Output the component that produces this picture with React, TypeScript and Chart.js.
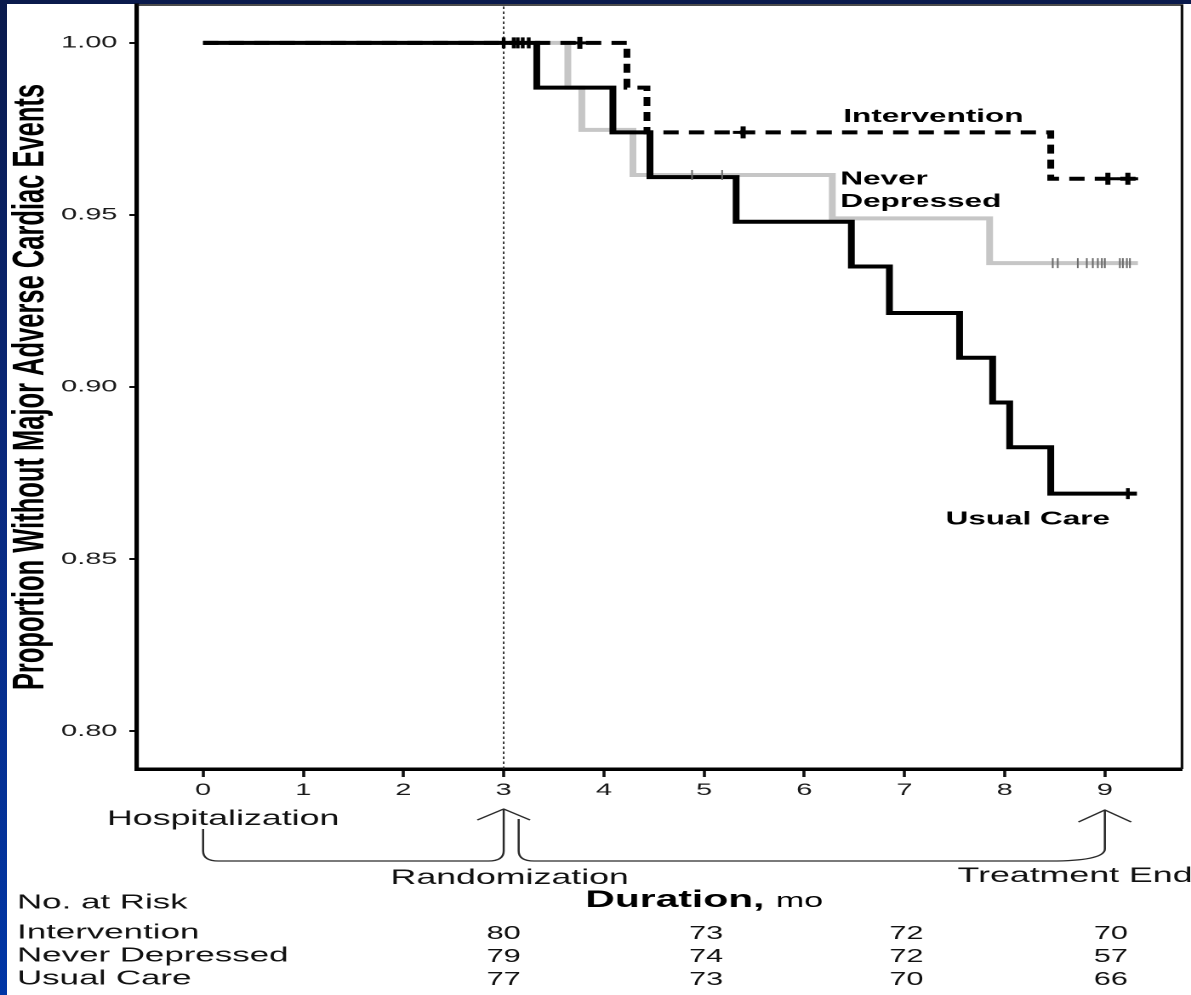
import React, { useEffect, useRef } from "react";
import { Chart, registerables } from "chart.js";

Chart.register(...registerables);

// ---- layout constants (logical canvas is stretched horizontally like the original) ----
const LOGICAL_W = 700;
const LOGICAL_H = 995;
const STRETCH = 1191 / LOGICAL_W;
const FONT = "'Liberation Sans', Arial, Helvetica, sans-serif";

// ---- data ----
const monthTicks = [0, 1, 2, 3, 4, 5, 6, 7, 8, 9];
const proportionTicks = [0.8, 0.85, 0.9, 0.95, 1.0];

const usualCareTimes = [0, 3.33, 4.09, 4.46, 5.32, 6.47, 6.85, 7.55, 7.88, 8.05, 8.46, 9.32];
const usualCareSurvival = [1.0, 0.987, 0.974, 0.961, 0.948, 0.935, 0.9215, 0.9085, 0.8955, 0.8825, 0.869, 0.869];

const interventionTimes = [0, 4.23, 4.43, 8.46, 9.33];
const interventionSurvival = [1.0, 0.987, 0.974, 0.9605, 0.9605];

const neverDepressedTimes = [0, 3.64, 3.78, 4.29, 6.28, 7.85, 9.33];
const neverDepressedSurvival = [1.0, 0.987, 0.9747, 0.9616, 0.949, 0.936, 0.936];

const usualCareCensored = [3.0, 3.1, 3.14, 3.19, 3.25, 9.23];
const interventionCensored = [3.76, 5.39, 9.03, 9.23];
const neverDepressedCensored = [4.88, 5.18, 8.48, 8.53, 8.73, 8.82, 8.88, 8.93, 8.97, 9.0, 9.15, 9.18, 9.22, 9.25];

const randomizationMonth = 3;

const curveLabelTexts = ["Intervention", "Never", "Depressed", "Usual Care"];
const curveLabelMonths = [6.39, 6.36, 6.36, 7.41];
const curveLabelLevels = [0.9788, 0.9606, 0.9541, 0.8618];

const timelineTexts = ["Hospitalization", "Randomization", "Treatment End"];
const timelineMonths = [0.2, 3.06, 7.53];

const riskHeader = "No. at Risk";
const riskGroups = ["Intervention", "Never Depressed", "Usual Care"];
const riskMonths = [3, 5.02, 7.02, 9.06];
const riskIntervention = [80, 73, 72, 70];
const riskNeverDepressed = [79, 74, 72, 57];
const riskUsualCare = [77, 73, 70, 66];

const X_MIN = -0.66;
const X_MAX = 9.77;
const Y_MIN = 0.789;
const Y_MAX = 1.011;

function toPoints(times: number[], values: number[]) {
  return times.map((t, i) => ({ x: t, y: values[i] }));
}

function survivalAt(times: number[], values: number[], t: number) {
  let v = values[0];
  for (let i = 0; i < times.length; i++) if (times[i] <= t) v = values[i];
  return v;
}

function censorPoints(cens: number[], times: number[], values: number[]) {
  return cens.map((t) => ({ x: t, y: survivalAt(times, values, t) }));
}

const decorPlugin = {
  id: "decor",
  afterDraw(chart: any) {
    const { ctx, chartArea } = chart;
    const xs = chart.scales.x;
    const ys = chart.scales.y;
    const X = (t: number) => xs.getPixelForValue(t);
    const Y = (v: number) => ys.getPixelForValue(v);
    ctx.save();

    // top and right frame
    ctx.strokeStyle = "#111";
    ctx.lineWidth = 1.6;
    ctx.beginPath();
    ctx.moveTo(chartArea.left, chartArea.top);
    ctx.lineTo(chartArea.right, chartArea.top);
    ctx.lineTo(chartArea.right, chartArea.bottom);
    ctx.stroke();

    // curve labels
    ctx.fillStyle = "#000";
    ctx.font = `bold 18.5px ${FONT}`;
    ctx.textAlign = "left";
    ctx.textBaseline = "middle";
    curveLabelTexts.forEach((txt, i) => {
      ctx.fillText(txt, X(curveLabelMonths[i]), Y(curveLabelLevels[i]) + 1);
    });

    // timeline labels
    ctx.fillStyle = "#111";
    ctx.font = `21px ${FONT}`;
    ctx.textBaseline = "alphabetic";
    ctx.textAlign = "center";
    ctx.fillText(timelineTexts[0], X(timelineMonths[0]), 825);
    ctx.fillText(timelineTexts[1], X(timelineMonths[1]), 884);
    ctx.textAlign = "left";
    ctx.fillText(timelineTexts[2], X(timelineMonths[2]), 882);

    // braces + arrows
    const x0 = X(0);
    const x3 = X(randomizationMonth);
    const x9 = X(9);
    ctx.strokeStyle = "#2a2a2a";
    ctx.lineWidth = 1.25;
    ctx.lineJoin = "round";
    ctx.beginPath();
    ctx.moveTo(x0, 829);
    ctx.lineTo(x0, 851);
    ctx.quadraticCurveTo(x0, 861, x0 + 9, 861);
    ctx.lineTo(x3 - 9, 861);
    ctx.quadraticCurveTo(x3, 861, x3, 851);
    ctx.lineTo(x3, 809);
    ctx.stroke();
    ctx.beginPath();
    ctx.moveTo(x3 - 15.5, 820);
    ctx.lineTo(x3, 809);
    ctx.lineTo(x3 + 15.5, 820);
    ctx.stroke();
    const xb = x3 + 8.8;
    ctx.beginPath();
    ctx.moveTo(xb, 819);
    ctx.lineTo(xb, 851);
    ctx.quadraticCurveTo(xb, 861, xb + 9, 861);
    ctx.lineTo(x9 - 28, 861);
    ctx.quadraticCurveTo(x9, 860, x9, 849);
    ctx.lineTo(x9, 810);
    ctx.stroke();
    ctx.beginPath();
    ctx.moveTo(x9 - 15.5, 822);
    ctx.lineTo(x9, 810);
    ctx.lineTo(x9 + 15.5, 822);
    ctx.stroke();

    // Duration, mo
    ctx.fillStyle = "#000";
    ctx.textAlign = "left";
    ctx.font = `bold 24px ${FONT}`;
    const durText = "Duration,";
    ctx.fillText(durText, 344, 907);
    const durW = ctx.measureText(durText + " ").width;
    ctx.font = `20px ${FONT}`;
    ctx.fillText("mo", 344 + durW, 907);

    // number at risk table
    ctx.fillStyle = "#111";
    ctx.font = `20.5px ${FONT}`;
    ctx.textBaseline = "middle";
    ctx.textAlign = "left";
    ctx.fillText(riskHeader, 10, 903);
    const rowY = [933, 956, 979];
    riskGroups.forEach((g, i) => ctx.fillText(g, 10, rowY[i]));
    ctx.font = `18px ${FONT}`;
    ctx.textAlign = "center";
    const rows = [riskIntervention, riskNeverDepressed, riskUsualCare];
    rows.forEach((row, r) => {
      row.forEach((n, c) => ctx.fillText(String(n), X(riskMonths[c]), rowY[r] + 1));
    });

    ctx.restore();
  },
};

export default function App() {
  const canvasRef = useRef<HTMLCanvasElement | null>(null);

  useEffect(() => {
    const canvas = canvasRef.current;
    if (!canvas) return;
    const chart = new Chart(canvas, {
      type: "line",
      data: {
        datasets: [
          {
            label: "Usual Care censored",
            data: censorPoints(usualCareCensored, usualCareTimes, usualCareSurvival),
            showLine: false,
            pointStyle: "line",
            rotation: 90,
            pointRadius: 5.5,
            borderColor: "#000",
            backgroundColor: "#000",
            pointBorderWidth: 2.2,
            order: 0,
          } as any,
          {
            label: "Intervention censored",
            data: censorPoints(interventionCensored, interventionTimes, interventionSurvival),
            showLine: false,
            pointStyle: "cross",
            pointRadius: 6,
            borderColor: "#000",
            backgroundColor: "#000",
            pointBorderWidth: 3,
            order: 0,
          } as any,
          {
            label: "Never Depressed censored",
            data: censorPoints(neverDepressedCensored, neverDepressedTimes, neverDepressedSurvival),
            showLine: false,
            pointStyle: "line",
            rotation: 90,
            pointRadius: 5,
            borderColor: "#6a6a6a",
            backgroundColor: "#6a6a6a",
            pointBorderWidth: 1,
            order: 0,
          } as any,
          {
            label: "Usual Care",
            data: toPoints(usualCareTimes, usualCareSurvival),
            borderColor: "#000",
            borderWidth: 4,
            stepped: true,
            pointRadius: 0,
            fill: false,
            borderJoinStyle: "miter",
            order: 1,
          } as any,
          {
            label: "Intervention",
            data: toPoints(interventionTimes, interventionSurvival),
            borderColor: "#000",
            borderWidth: 4,
            borderDash: [9, 6],
            stepped: true,
            pointRadius: 0,
            fill: false,
            borderJoinStyle: "miter",
            order: 2,
          } as any,
          {
            label: "Never Depressed",
            data: toPoints(neverDepressedTimes, neverDepressedSurvival),
            borderColor: "#c6c6c6",
            borderWidth: 4,
            stepped: true,
            pointRadius: 0,
            fill: false,
            borderJoinStyle: "miter",
            order: 3,
          } as any,
          {
            label: "Randomization",
            data: [
              { x: randomizationMonth, y: Y_MIN },
              { x: randomizationMonth, y: Y_MAX },
            ],
            borderColor: "#222",
            borderWidth: 0.9,
            borderDash: [2.5, 2.5],
            pointRadius: 0,
            fill: false,
            order: 4,
          } as any,
        ],
      },
      options: {
        responsive: false,
        animation: false,
        devicePixelRatio: 2,
        events: [],
        layout: {
          autoPadding: false,
          padding: { left: 0, top: 5, right: LOGICAL_W - 694.7, bottom: LOGICAL_H - 769 - 60 },
        },
        plugins: {
          legend: { display: false },
          tooltip: { enabled: false },
        },
        scales: {
          x: {
            type: "linear",
            min: X_MIN,
            max: X_MAX,
            afterFit: (s: any) => {
              s.height = 60;
              s.paddingLeft = 0;
              s.paddingRight = 0;
              s.paddingTop = 0;
              s.paddingBottom = 0;
            },
            afterBuildTicks: (s: any) => {
              s.ticks = monthTicks.map((v) => ({ value: v }));
            },
            ticks: {
              font: { family: FONT, size: 17 },
              color: "#1a1a1a",
              padding: 3,
              maxRotation: 0,
              callback: (v: any) => String(v),
            },
            grid: {
              display: true,
              drawOnChartArea: false,
              drawTicks: true,
              tickLength: 8,
              tickColor: "#111",
              tickWidth: 1.8,
            },
            border: { display: true, color: "#000", width: 3.5 },
          },
          y: {
            type: "linear",
            min: Y_MIN,
            max: Y_MAX,
            afterFit: (s: any) => {
              s.width = 80.5;
              s.paddingLeft = 0;
              s.paddingRight = 0;
              s.paddingTop = 0;
              s.paddingBottom = 0;
            },
            afterBuildTicks: (s: any) => {
              s.ticks = proportionTicks.map((v) => ({ value: v }));
            },
            ticks: {
              font: { family: FONT, size: 17 },
              color: "#1a1a1a",
              padding: 7,
              callback: (v: any) => Number(v).toFixed(2),
            },
            grid: {
              display: true,
              drawOnChartArea: false,
              drawTicks: true,
              tickLength: 4.5,
              tickColor: "#111",
              tickWidth: 2,
            },
            border: { display: true, color: "#000", width: 2.6 },
            title: {
              display: true,
              text: "Proportion Without Major Adverse Cardiac Events",
              font: { family: FONT, size: 25.5, weight: "bold" },
              color: "#000",
              padding: { top: 3, bottom: 0 },
            },
          },
        },
      },
      plugins: [decorPlugin],
    } as any);
    return () => chart.destroy();
  }, []);

  return (
    <div
      style={{
        position: "fixed",
        left: 0,
        top: 0,
        width: 1191,
        height: 995,
        overflow: "hidden",
        background: "linear-gradient(to bottom, #0a1a4c 0%, #0a2a80 50%, #0036a6 100%)",
      }}
    >
      <div
        style={{
          position: "absolute",
          left: 7,
          top: 4,
          right: 0,
          bottom: 0,
          background: "#fff",
        }}
      />
      <canvas
        ref={canvasRef}
        width={LOGICAL_W}
        height={LOGICAL_H}
        style={{
          position: "absolute",
          left: 0,
          top: 0,
          width: LOGICAL_W,
          height: LOGICAL_H,
          transform: `scaleX(${STRETCH})`,
          transformOrigin: "0 0",
        }}
      />
    </div>
  );
}
